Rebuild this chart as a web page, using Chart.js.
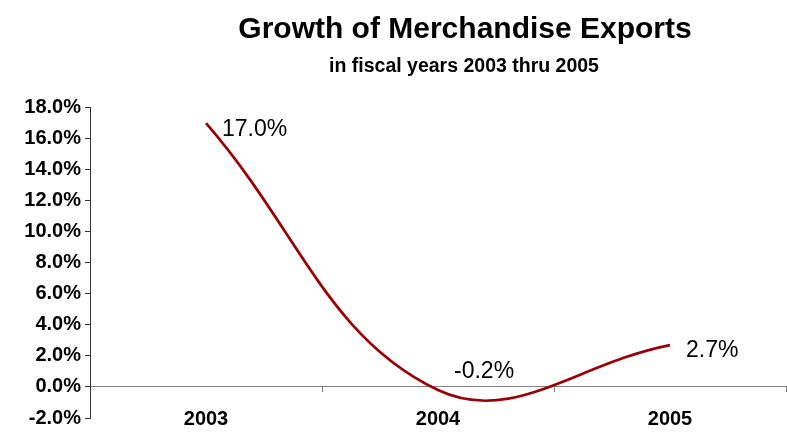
<!DOCTYPE html>
<html>
<head>
<meta charset="utf-8">
<script src="https://cdn.jsdelivr.net/npm/chart.js@4.4.1/dist/chart.umd.min.js"></script>
<style>
  html, body { margin: 0; padding: 0; background: #fff; }
  #wrap { width: 787px; height: 432px; position: relative; }
</style>
</head>
<body>
<div id="wrap"><canvas id="exports"></canvas></div>
<script>
// ── Data ────────────────────────────────────────────────────────────
const TITLE = 'Growth of Merchandise Exports';
const SUBTITLE = 'in fiscal years 2003 thru 2005';
const years = ['2003', '2004', '2005'];
const exportGrowth = [17.0, -0.2, 2.7];   // % change year on year
const Y_MIN = -2;
const Y_MAX = 18;
const Y_STEP = 2;

// ── Styling ─────────────────────────────────────────────────────────
const FONT = "'Liberation Sans', Arial, sans-serif";
const LINE_RED = '#9C0006';

const pct = v => v.toFixed(1) + '%';

// Title + subtitle, centred a little right of the canvas middle
const headingPlugin = {
  id: 'heading',
  afterDraw(chart) {
    const c = chart.ctx;
    c.save();
    c.fillStyle = '#000';
    c.textAlign = 'center';
    c.textBaseline = 'alphabetic';
    c.font = `bold 30px ${FONT}`;
    c.fillText(TITLE, 465, 38);
    c.font = `bold 19.5px ${FONT}`;
    c.fillText(SUBTITLE, 464, 72);
    c.restore();
  }
};

// Value labels sitting to the right of each point
const valueLabelPlugin = {
  id: 'valueLabels',
  afterDatasetsDraw(chart, args, opts) {
    const c = chart.ctx;
    const meta = chart.getDatasetMeta(0);
    c.save();
    c.font = `23px ${FONT}`;
    c.fillStyle = '#000';
    c.textAlign = 'left';
    c.textBaseline = 'alphabetic';
    meta.data.forEach((pt, i) => {
      c.fillText(pct(exportGrowth[i]), pt.x + opts.dx, pt.y + opts.baseline[i]);
    });
    c.restore();
  }
};

new Chart(document.getElementById('exports'), {
  type: 'line',
  data: {
    labels: years,
    datasets: [{
      data: exportGrowth,
      borderColor: LINE_RED,
      borderWidth: 2.7,
      tension: 0.4,
      pointRadius: 0,
      fill: false,
    }],
  },
  options: {
    responsive: true,
    maintainAspectRatio: false,
    animation: false,
    layout: { padding: { top: 107.7, right: 1, bottom: 10.6, left: 0 } },
    elements: { line: { capBezierPoints: false } },
    plugins: {
      legend: { display: false },
      tooltip: { enabled: false },
      valueLabels: { dx: 16, baseline: [13, -12, 12] },
    },
    scales: {
      x: {
        position: { y: 0 },
        offset: true,
        grid: { offset: true, drawOnChartArea: false, drawTicks: true, tickLength: 5, color: '#808080' },
        border: { color: '#808080', width: 1 },
        ticks: {
          font: { family: FONT, size: 20, weight: 'bold' },
          color: '#000',
          padding: 16,
          maxRotation: 0,
        },
        afterFit: s => { s.height = 0; },
      },
      y: {
        min: Y_MIN,
        max: Y_MAX,
        ticks: {
          stepSize: Y_STEP,
          callback: v => pct(v),
          font: { family: FONT, size: 20, weight: 'bold', lineHeight: 1 },
          color: '#000',
          padding: 4,
        },
        grid: { drawOnChartArea: false, drawTicks: true, tickLength: 5, color: '#333' },
        border: { color: '#333' },
        afterFit: s => { s.width = 90; },
      },
    },
  },
  plugins: [headingPlugin, valueLabelPlugin],
});
</script>
</body>
</html>
